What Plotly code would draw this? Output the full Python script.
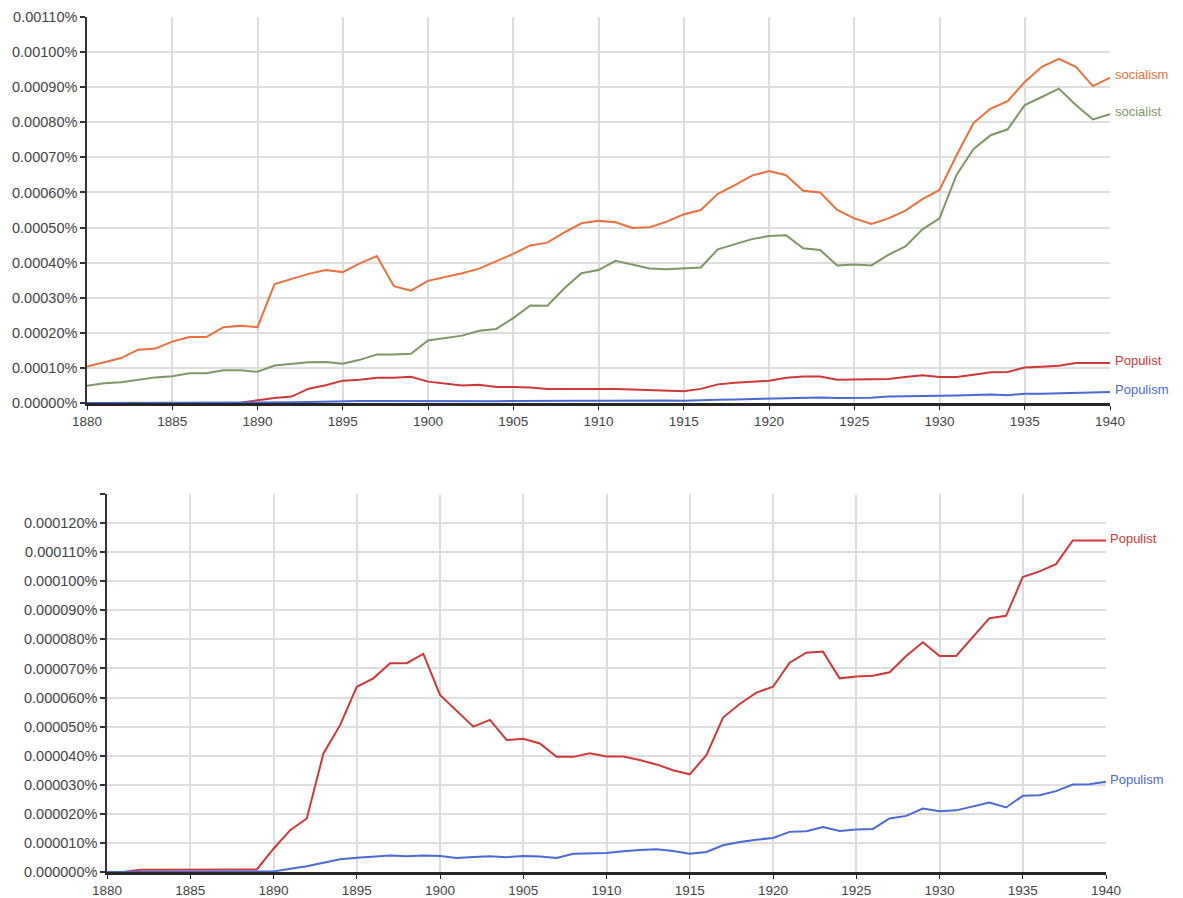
import plotly.graph_objects as go

# Frequency of each term per year, in units of 0.00001 % of all words
years = list(range(1880, 1941))

socialism = [
    10.4, 11.6, 12.8, 15.2, 15.5, 17.5, 18.8, 18.8, 21.6, 22.0, 21.6,
    33.9, 35.3, 36.8, 37.9, 37.3, 39.8, 41.9, 33.3, 32.0, 34.8,
    35.8, 37.0, 38.3, 40.3, 42.5, 44.9, 45.7, 48.6, 51.2, 51.9,
    51.5, 49.9, 50.1, 51.7, 53.8, 55.0, 59.6, 62.1, 64.8, 66.1,
    64.9, 60.5, 60.0, 55.0, 52.6, 51.0, 52.6, 54.8, 58.1, 60.7,
    70.6, 79.8, 83.9, 86.0, 91.5, 95.8, 98.1, 95.8, 90.3, 92.7,
]
socialist = [
    4.9, 5.6, 5.9, 6.6, 7.3, 7.6, 8.5, 8.5, 9.3, 9.3, 8.9,
    10.7, 11.2, 11.6, 11.7, 11.2, 12.3, 13.8, 13.8, 14.0, 17.8,
    18.5, 19.2, 20.6, 21.1, 24.2, 27.8, 27.7, 32.7, 37.0, 37.9,
    40.5, 39.5, 38.3, 38.1, 38.3, 38.6, 43.8, 45.3, 46.7, 47.6,
    47.8, 44.1, 43.6, 39.2, 39.5, 39.2, 42.2, 44.6, 49.5, 52.6,
    65.0, 72.4, 76.3, 78.0, 84.9, 87.2, 89.6, 84.9, 80.8, 82.3,
]
populist = [
    0.0, 0.0, 0.08, 0.08, 0.08, 0.08, 0.08, 0.08, 0.08, 0.09, 0.80,
    1.44, 1.84, 4.08, 5.05, 6.37, 6.66, 7.18, 7.18, 7.50, 6.09,
    5.55, 5.00, 5.23, 4.54, 4.58, 4.42, 3.96, 3.96, 4.08, 3.97,
    3.97, 3.85, 3.70, 3.50, 3.36, 4.02, 5.31, 5.78, 6.17, 6.37,
    7.20, 7.54, 7.58, 6.66, 6.72, 6.75, 6.87, 7.43, 7.90, 7.43,
    7.43, 8.07, 8.73, 8.81, 10.14, 10.34, 10.59, 11.40, 11.40, 11.40,
]
populism = [
    0.0, 0.0, 0.0, 0.0, 0.0, 0.0, 0.0, 0.0, 0.0, 0.0, 0.02,
    0.11, 0.20, 0.32, 0.44, 0.49, 0.54, 0.57, 0.54, 0.57, 0.55,
    0.48, 0.52, 0.54, 0.51, 0.55, 0.53, 0.48, 0.63, 0.64, 0.65,
    0.71, 0.76, 0.78, 0.72, 0.63, 0.69, 0.92, 1.03, 1.11, 1.17,
    1.38, 1.40, 1.55, 1.41, 1.46, 1.48, 1.84, 1.93, 2.18, 2.09,
    2.12, 2.26, 2.39, 2.22, 2.62, 2.64, 2.78, 3.01, 3.02, 3.10,
]
UNIT = 1e-5  # stored values -> percent

year_ticks = [1880, 1885, 1890, 1895, 1900, 1905, 1910, 1915, 1920, 1925, 1930, 1935, 1940]

top_tickvals = [i * 1e-4 for i in range(12)]
top_ticktext = ["0.00000%", "0.00010%", "0.00020%", "0.00030%", "0.00040%", "0.00050%",
                "0.00060%", "0.00070%", "0.00080%", "0.00090%", "0.00100%", "0.00110%"]
bottom_tickvals = [i * 1e-5 for i in range(14)]
bottom_ticktext = ["0.000000%", "0.000010%", "0.000020%", "0.000030%", "0.000040%",
                   "0.000050%", "0.000060%", "0.000070%", "0.000080%", "0.000090%",
                   "0.000100%", "0.000110%", "0.000120%", ""]

COLORS = {
    "socialism": "#ec6f3c",
    "socialist": "#7c9864",
    "Populist": "#d03838",
    "Populism": "#4a6ad8",
}
FONT = "Liberation Sans, Arial, sans-serif"

W, H = 1183, 898


def px_x(a, b):
    return [a / W, b / W]


def px_y(top, bottom):
    return [1 - bottom / H, 1 - top / H]


fig = go.Figure()

top_series = [("socialism", socialism), ("socialist", socialist),
              ("Populist", populist), ("Populism", populism)]
bottom_series = [("Populist", populist), ("Populism", populism)]

for name, vals in top_series:
    fig.add_trace(go.Scatter(
        x=years, y=[v * UNIT for v in vals], mode="lines", name=name,
        line=dict(color=COLORS[name], width=2), xaxis="x", yaxis="y",
        showlegend=False))

for name, vals in bottom_series:
    fig.add_trace(go.Scatter(
        x=years, y=[v * UNIT for v in vals], mode="lines", name=name,
        line=dict(color=COLORS[name], width=2), xaxis="x2", yaxis="y2",
        showlegend=False))

# End-of-line labels
annotations = []
for name, vals in top_series:
    annotations.append(dict(
        x=years[-1], y=vals[-1] * UNIT, xref="x", yref="y", text=name,
        showarrow=False, xanchor="left", yanchor="middle", xshift=3, yshift=3,
        font=dict(family=FONT, size=13, color=COLORS[name])))
for name, vals in bottom_series:
    annotations.append(dict(
        x=years[-1], y=vals[-1] * UNIT, xref="x2", yref="y2", text=name,
        showarrow=False, xanchor="left", yanchor="middle", xshift=2, yshift=2,
        font=dict(family=FONT, size=13, color=COLORS[name])))

xaxis_common = dict(
    range=[1880, 1940], tickvals=year_ticks, showgrid=True, automargin=False,
    gridcolor="#dedede", gridwidth=1.5, zeroline=False,
    showline=True, linecolor="#262626", linewidth=2.5,
    ticks="outside", ticklen=4, tickcolor="#262626", tickwidth=1,
    tickfont=dict(family=FONT, size=13.5, color="#444444"),
)
yaxis_common = dict(
    showgrid=True, gridcolor="#dedede", gridwidth=1.5, zeroline=False,
    automargin=False,
    showline=True, linecolor="#333333", linewidth=1.5,
    ticks="outside", ticklen=5, tickcolor="#333333", tickwidth=1.5,
    tickfont=dict(family=FONT, size=14.5, color="#444444"),
)

fig.update_layout(
    width=W, height=H,
    margin=dict(l=0, r=0, t=0, b=0, pad=0),
    paper_bgcolor="white", plot_bgcolor="white",
    font=dict(family=FONT),
    xaxis=dict(domain=px_x(87, 1110), anchor="y", **xaxis_common),
    yaxis=dict(domain=px_y(17, 403), anchor="x", range=[0, 0.0011],
               tickvals=top_tickvals, ticktext=top_ticktext, **yaxis_common),
    xaxis2=dict(domain=px_x(107, 1106), anchor="y2", **xaxis_common),
    yaxis2=dict(domain=px_y(494, 872), anchor="x2", range=[0, 0.00013],
                tickvals=bottom_tickvals, ticktext=bottom_ticktext, **yaxis_common),
    annotations=annotations,
)

fig.write_html("out.html")
